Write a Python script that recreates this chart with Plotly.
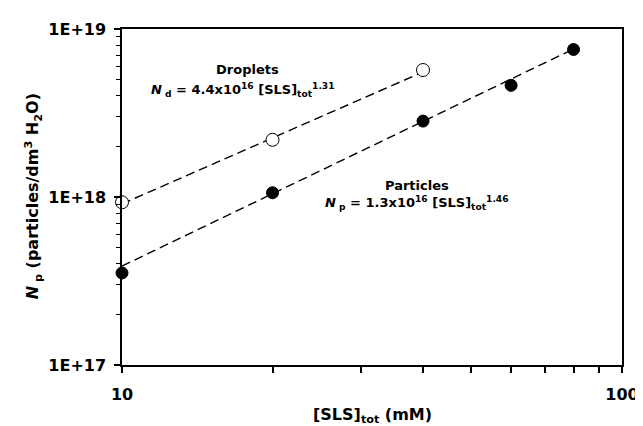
import plotly.graph_objects as go

# Data
droplet_x = [10, 20, 40]
droplet_y = [9.3e17, 2.19e18, 5.7e18]
particle_x = [10, 20, 40, 60, 80]
particle_y = [3.53e17, 1.06e18, 2.83e18, 4.62e18, 7.55e18]

# Power-law fit lines (end points)
droplet_fit_x = [10, 40]
droplet_fit_y = [9.1e17, 5.55e18]
particle_fit_x = [10, 80]
particle_fit_y = [3.88e17, 7.6e18]

y_tickvals = [1e17, 1e18, 1e19]
y_ticktext = ["1E+17", "1E+18", "1E+19"]
y_minor = [2e17, 3e17, 4e17, 5e17, 6e17, 7e17, 8e17, 9e17,
           2e18, 3e18, 4e18, 5e18, 6e18, 7e18, 8e18, 9e18]
x_tickvals = [10, 100]
x_ticktext = ["10", "100"]
x_minor = [20, 30, 40, 50, 60, 70, 80, 90]

FONT = "DejaVu Sans, Liberation Sans, Arial, sans-serif"

fig = go.Figure()
dash = "9px,5px"
fig.add_trace(go.Scatter(x=droplet_fit_x, y=droplet_fit_y, mode="lines",
                         line=dict(color="black", width=1.4, dash=dash),
                         showlegend=False, hoverinfo="skip"))
fig.add_trace(go.Scatter(x=particle_fit_x, y=particle_fit_y, mode="lines",
                         line=dict(color="black", width=1.4, dash=dash),
                         showlegend=False, hoverinfo="skip"))
fig.add_trace(go.Scatter(x=droplet_x, y=droplet_y, mode="markers", name="Droplets",
                         marker=dict(symbol="circle", size=13, color="white",
                                     line=dict(color="black", width=1)),
                         cliponaxis=False, showlegend=False))
fig.add_trace(go.Scatter(x=particle_x, y=particle_y, mode="markers", name="Particles",
                         marker=dict(symbol="circle", size=12, color="black",
                                     line=dict(color="black", width=1)),
                         cliponaxis=False, showlegend=False))

axis_common = dict(showgrid=False, zeroline=False, showline=True, linecolor="black",
                   linewidth=1.5, mirror=True, ticks="outside", tickcolor="black",
                   tickwidth=1.5, ticklen=6,
                   tickfont=dict(family=FONT, size=16, color="black", weight="bold"))

fig.update_xaxes(type="log", range=[1, 2], tickvals=x_tickvals, ticktext=x_ticktext,
                 ticklabelstandoff=8,
                 minor=dict(tickvals=x_minor, ticks="outside", ticklen=6,
                            tickcolor="black", tickwidth=1.5, showgrid=False),
                 **axis_common)
fig.update_yaxes(type="log", range=[17, 19], tickvals=y_tickvals, ticktext=y_ticktext,
                 ticklabelstandoff=5,
                 minor=dict(tickvals=y_minor, ticks="outside", ticklen=4,
                            tickcolor="black", tickwidth=1.2, showgrid=False),
                 **axis_common)

ann_font = dict(family=FONT, size=13, color="black", weight="bold")
annotations = [
    dict(x=240, y=61, text="Droplets"),
    dict(x=235, y=81, text="<i>N</i><sub> d</sub> = 4.4x10<sup>16</sup> [SLS]<sub>tot</sub><sup>1.31</sup>"),
    dict(x=410, y=177, text="Particles"),
    dict(x=410, y=195, text="<i>N</i><sub> p</sub> = 1.3x10<sup>16</sup> [SLS]<sub>tot</sub><sup>1.46</sup>"),
]
L, T, W, H = 113.5, 20, 503, 337.5
anns = []
for a in annotations:
    anns.append(dict(xref="paper", yref="paper", x=(a["x"] - L) / W, y=1 - (a["y"] - T) / H,
                     text=a["text"], showarrow=False, font=ann_font,
                     xanchor="center", yanchor="middle"))
# axis titles
anns.append(dict(xref="paper", yref="paper", x=0.5, y=1 - (408 - T) / H,
                 text="[SLS]<sub>tot</sub> (mM)", showarrow=False,
                 font=dict(family=FONT, size=16, color="black", weight="bold"),
                 xanchor="center", yanchor="middle"))
anns.append(dict(xref="paper", yref="paper", x=(24 - L) / W, y=1 - (188 - T) / H,
                 text="<i>N</i><sub> p</sub> (particles/dm<sup>3</sup> H<sub>2</sub>O)",
                 textangle=-90, showarrow=False,
                 font=dict(family=FONT, size=16, color="black", weight="bold"),
                 xanchor="center", yanchor="middle"))

fig.update_layout(width=643, height=426,
                  margin=dict(l=113.5, r=26.5, t=20, b=68.5),
                  paper_bgcolor="white", plot_bgcolor="white",
                  font=dict(family=FONT, color="black"),
                  annotations=anns, showlegend=False)

fig.write_html("out.html")
